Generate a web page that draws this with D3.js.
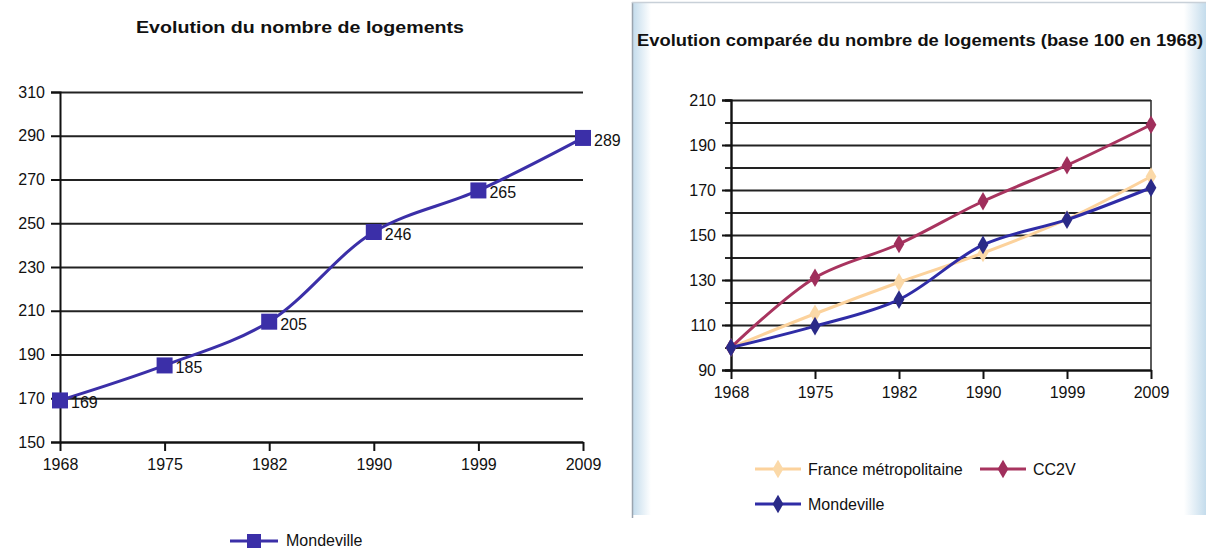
<!DOCTYPE html>
<html lang="fr">
<head>
    <meta charset="utf-8">
    <style type="text/css">
        body { margin: 0; background: #fff; }
        text { font-family: "Liberation Sans", Arial, sans-serif; fill: #111; }
        .title { font-weight: bold; font-size: 17px; }
        .tick text { font-size: 16px; }
        .grid line { stroke: #222; stroke-width: 1.9px; }
        .grid .domain { display: none; }
    </style>
</head>
<body>
<svg width="1206" height="550"></svg>

<script src="https://d3js.org/d3.v7.min.js" type="text/javascript"></script>

<script type="text/javascript">
    var years = ["1968", "1975", "1982", "1990", "1999", "2009"];

    // nombre de logements, Mondeville
    var logements = [169, 185, 205, 246, 265, 289];

    // base 100 en 1968
    var france = [100, 115, 129, 142, 157, 176];
    var cc2v = [100, 131, 146, 165, 181, 199];
    var mondeville = [100, 109.5, 121.3, 145.6, 156.8, 171];

    var leftTicks = [150, 170, 190, 210, 230, 250, 270, 290, 310];
    var rightTicks = [90, 110, 130, 150, 170, 190, 210];
    var rightGrid = [90, 100, 110, 120, 130, 140, 150, 160, 170, 180, 190, 200, 210];

    var svg = d3.select("svg");
    var curve = d3.curveCatmullRom.alpha(0.5);

    // ---------- left chart ----------
    var x1 = d3.scalePoint().domain(years).range([60, 583]);
    var y1 = d3.scaleLinear().domain([150, 310]).range([442, 92]);

    svg.append("text").attr("class", "title")
        .attr("x", 300).attr("y", 33)
        .attr("text-anchor", "middle")
        .attr("textLength", 328).attr("lengthAdjust", "spacingAndGlyphs")
        .text("Evolution du nombre de logements");

    svg.append("g").attr("class", "grid")
        .attr("transform", "translate(60,0)")
        .call(d3.axisLeft(y1).tickValues(leftTicks).tickSize(-523).tickFormat(""));

    svg.append("g")
        .attr("transform", "translate(60,0)")
        .call(d3.axisLeft(y1).tickValues(leftTicks).tickSize(9).tickPadding(6))
        .call(g => g.selectAll("line, .domain").attr("stroke", "#111").attr("stroke-width", 2));

    svg.append("g")
        .attr("transform", "translate(0,442)")
        .call(d3.axisBottom(x1).tickSize(9).tickPadding(8).tickSizeOuter(0))
        .call(g => g.selectAll("line, .domain").attr("stroke", "#111").attr("stroke-width", 2));

    var line1 = d3.line()
        .x(function (d, i) { return x1(years[i]); })
        .y(function (d) { return y1(d); })
        .curve(curve);

    svg.append("path").datum(logements)
        .attr("d", line1)
        .attr("fill", "none")
        .attr("stroke", "#3b2fa8")
        .attr("stroke-width", 3);

    svg.selectAll(".sq").data(logements).enter().append("rect")
        .attr("class", "sq")
        .attr("x", function (d, i) { return x1(years[i]) - 8; })
        .attr("y", function (d) { return y1(d) - 8; })
        .attr("width", 16).attr("height", 16)
        .attr("fill", "#3b2fa8");

    svg.selectAll(".lbl").data(logements).enter().append("text")
        .attr("class", "lbl")
        .attr("x", function (d, i) { return x1(years[i]) + 11; })
        .attr("y", function (d) { return y1(d) + 8; })
        .attr("font-size", 16)
        .text(function (d) { return d; });

    // legend
    svg.append("line").attr("x1", 230).attr("x2", 278).attr("y1", 541).attr("y2", 541)
        .attr("stroke", "#3b2fa8").attr("stroke-width", 3);
    svg.append("rect").attr("x", 247).attr("y", 534).attr("width", 14).attr("height", 14)
        .attr("fill", "#3b2fa8");
    svg.append("text").attr("x", 286).attr("y", 546).attr("font-size", 16).text("Mondeville");

    // ---------- right panel frame ----------
    var defs = svg.append("defs");
    var gl = defs.append("linearGradient").attr("id", "fadeL");
    gl.append("stop").attr("offset", "0%").attr("stop-color", "#c4dcec");
    gl.append("stop").attr("offset", "100%").attr("stop-color", "#ffffff");
    var gr = defs.append("linearGradient").attr("id", "fadeR");
    gr.append("stop").attr("offset", "0%").attr("stop-color", "#ffffff");
    gr.append("stop").attr("offset", "100%").attr("stop-color", "#c4dcec");

    svg.append("rect").attr("x", 633).attr("y", 3).attr("width", 18).attr("height", 512).attr("fill", "url(#fadeL)");
    svg.append("rect").attr("x", 1184).attr("y", 3).attr("width", 22).attr("height", 512).attr("fill", "url(#fadeR)");
    svg.append("line").attr("x1", 632.5).attr("x2", 632.5).attr("y1", 2).attr("y2", 518)
        .attr("stroke", "#9aa4ae").attr("stroke-width", 1.5);
    svg.append("line").attr("x1", 632).attr("x2", 1206).attr("y1", 2.5).attr("y2", 2.5)
        .attr("stroke", "#c8d0d8").attr("stroke-width", 1.5);

    // ---------- right chart ----------
    var x2 = d3.scalePoint().domain(years).range([731, 1151]);
    var y2 = d3.scaleLinear().domain([90, 210]).range([370, 100]);

    svg.append("text").attr("class", "title")
        .attr("x", 920).attr("y", 46)
        .attr("text-anchor", "middle")
        .attr("textLength", 566).attr("lengthAdjust", "spacingAndGlyphs")
        .text("Evolution comparée du nombre de logements (base 100 en 1968)");

    svg.append("g").attr("class", "grid")
        .attr("transform", "translate(731,0)")
        .call(d3.axisLeft(y2).tickValues(rightGrid).tickSize(-420).tickFormat(""));

    svg.append("g")
        .attr("transform", "translate(731,0)")
        .call(d3.axisLeft(y2).tickValues(rightGrid).tickSize(6).tickFormat(""))
        .call(g => g.selectAll("line, .domain").attr("stroke", "#111").attr("stroke-width", 1.8));

    svg.append("g")
        .attr("transform", "translate(731,0)")
        .call(d3.axisLeft(y2).tickValues(rightTicks).tickSize(9).tickPadding(6))
        .call(g => g.selectAll("line, .domain").attr("stroke", "#111").attr("stroke-width", 2));

    svg.append("line").attr("x1", 1151).attr("x2", 1151).attr("y1", 100).attr("y2", 370)
        .attr("stroke", "#333").attr("stroke-width", 1.6);

    svg.append("g")
        .attr("transform", "translate(0,370)")
        .call(d3.axisBottom(x2).tickSize(9).tickPadding(8).tickSizeOuter(0))
        .call(g => g.selectAll("line, .domain").attr("stroke", "#111").attr("stroke-width", 2));

    var series = [
        { name: "France métropolitaine", values: france, color: "#fcd29c", mark: "#fbd9a8" },
        { name: "CC2V", values: cc2v, color: "#a8345f", mark: "#a02f5c" },
        { name: "Mondeville", values: mondeville, color: "#2f2ca6", mark: "#2a2a88" }
    ];

    var line2 = d3.line()
        .x(function (d, i) { return x2(years[i]); })
        .y(function (d) { return y2(d); })
        .curve(curve);

    var diamond = d3.symbol().type(d3.symbolDiamond).size(100);

    series.forEach(function (s) {
        svg.append("path").datum(s.values)
            .attr("d", line2)
            .attr("fill", "none")
            .attr("stroke", s.color)
            .attr("stroke-width", 3);

        svg.selectAll(null).data(s.values).enter().append("path")
            .attr("d", diamond)
            .attr("transform", function (d, i) { return "translate(" + x2(years[i]) + "," + y2(d) + ")"; })
            .attr("fill", s.mark);
    });

    // legend
    var legendPos = [[755, 469], [980, 469], [755, 504]];
    series.forEach(function (s, i) {
        var p = legendPos[i];
        svg.append("line").attr("x1", p[0]).attr("x2", p[0] + 46).attr("y1", p[1]).attr("y2", p[1])
            .attr("stroke", s.color).attr("stroke-width", 3);
        svg.append("path").attr("d", diamond)
            .attr("transform", "translate(" + (p[0] + 23) + "," + p[1] + ")")
            .attr("fill", s.mark);
        svg.append("text").attr("x", p[0] + 53).attr("y", p[1] + 6).attr("font-size", 16).text(s.name);
    });
</script>

</body>
</html>
